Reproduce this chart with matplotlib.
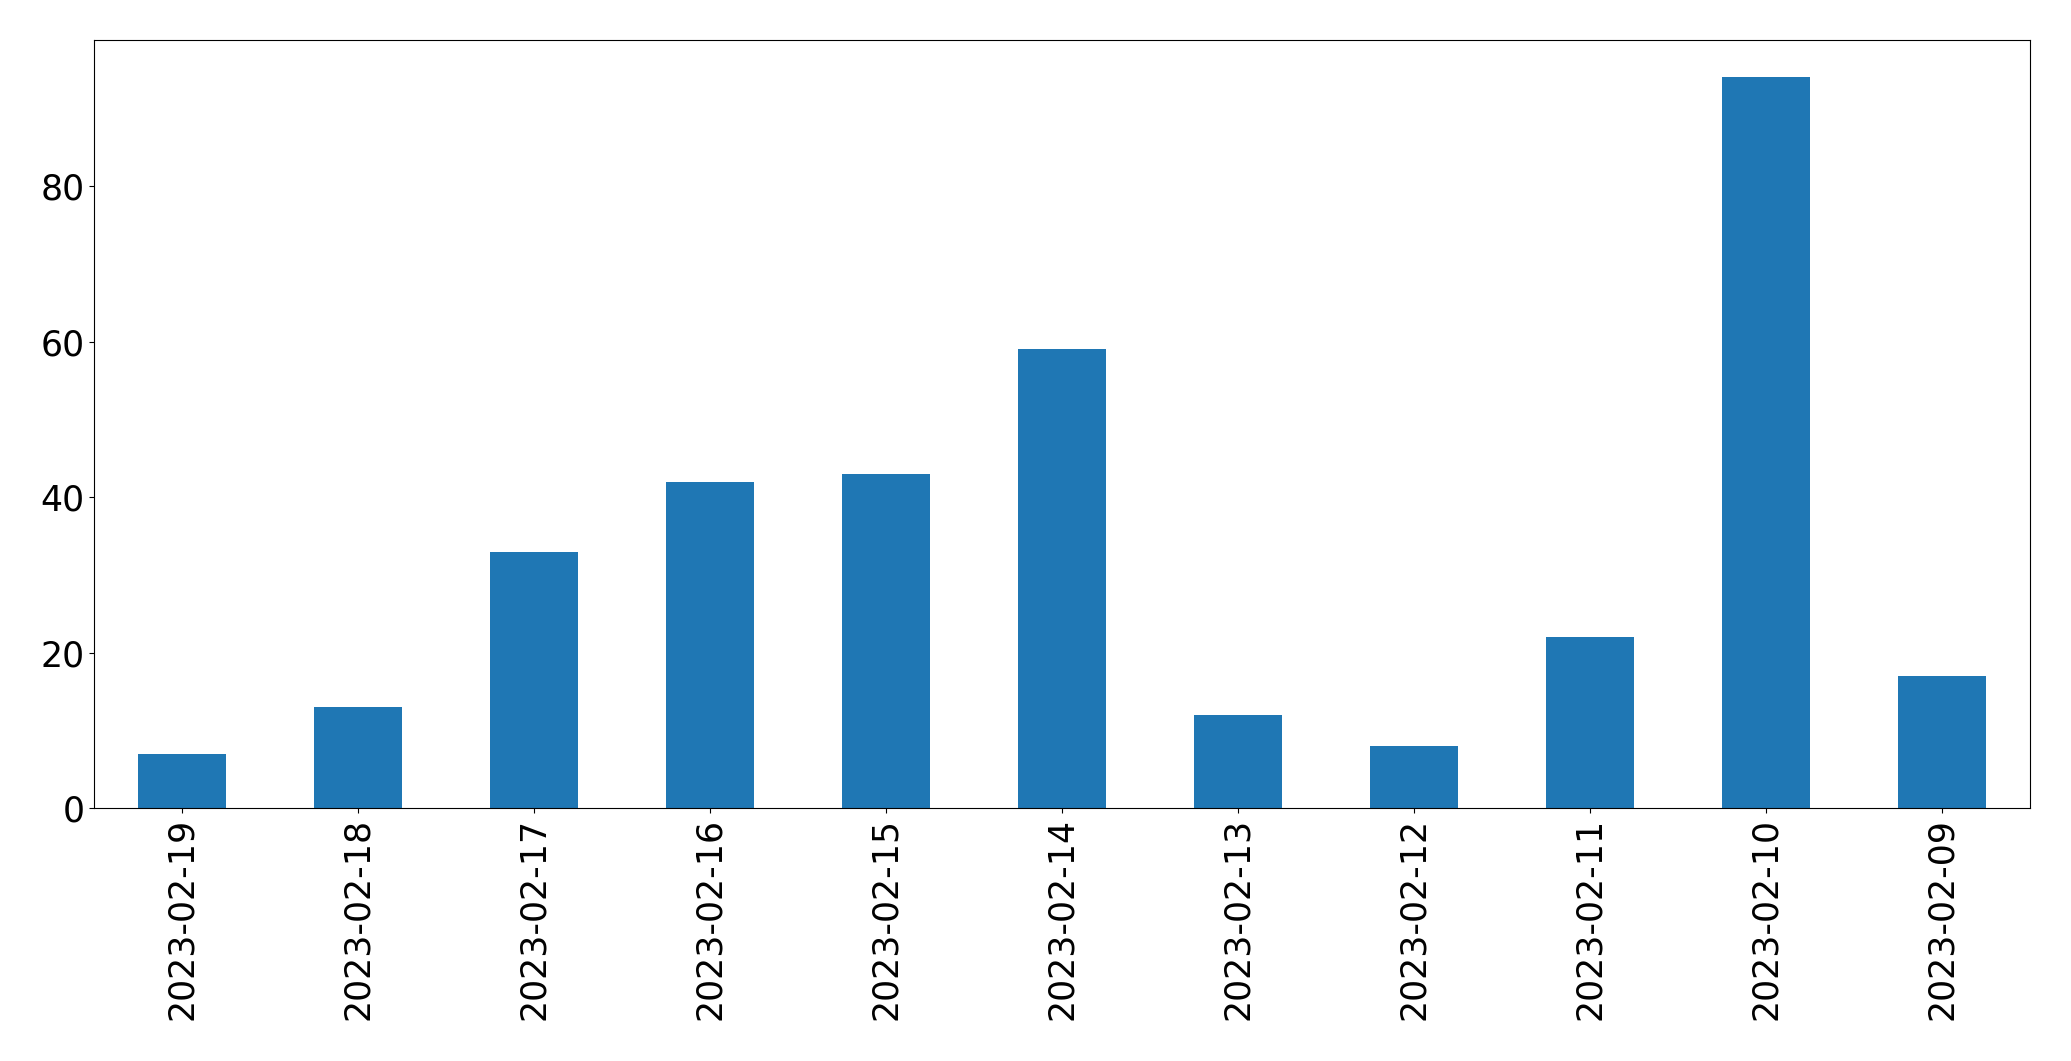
import matplotlib
matplotlib.use("Agg")
import matplotlib.pyplot as plt
import numpy as np

dates = ["2023-02-19", "2023-02-18", "2023-02-17", "2023-02-16", "2023-02-15",
         "2023-02-14", "2023-02-13", "2023-02-12", "2023-02-11", "2023-02-10",
         "2023-02-09"]
counts = [7, 13, 33, 42, 43, 59, 12, 8, 22, 94, 17]


def main():
    fig, ax = plt.subplots(figsize=(20.71, 10.61), dpi=100)
    x = np.arange(len(dates))
    ax.bar(x, counts, width=0.5, color="#1f77b4")
    ax.set_xlim(-0.5, len(dates) - 0.5)
    ax.set_ylim(0, max(counts) * 1.05)
    ax.set_xticks(x)
    ax.set_xticklabels(dates, rotation=90)
    ax.tick_params(axis="both", labelsize=25)
    plt.subplots_adjust(left=0.0454, right=0.980, top=0.962, bottom=0.238)
    fig.savefig("out.png")


if __name__ == "__main__":
    main()
